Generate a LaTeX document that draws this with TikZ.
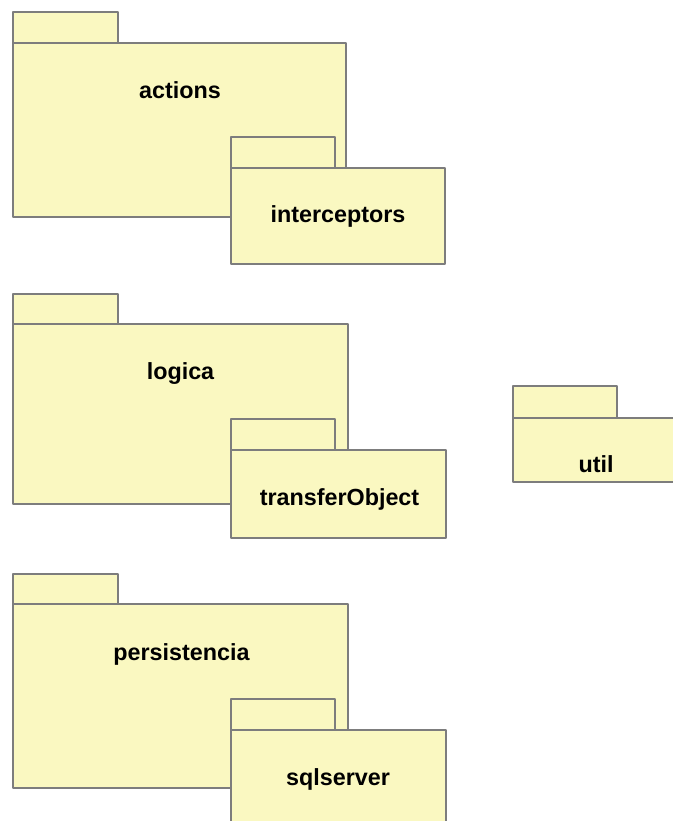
\documentclass[tikz,border=0pt]{standalone}
\usepackage{fontspec}
\setmainfont{Liberation Sans}
\definecolor{pkgfill}{RGB}{250,248,193}
\definecolor{pkgline}{RGB}{125,125,125}
\newcommand{\pkgfont}{\fontsize{17.5}{20}\selectfont\bfseries}

\begin{document}
\begin{tikzpicture}[x=.75pt,y=-.75pt,
  pkg/.style={fill=pkgfill, draw=pkgline, line width=1.1pt, line join=round},
  pkgname/.style={anchor=base, font=\pkgfont, inner sep=0pt}]
        \useasboundingbox (0,0) rectangle (673,821);
        \clip (0,0) rectangle (673,821);
        % actions
        \draw[pkg] (13,12) rectangle (118,43);
        \draw[pkg] (13,43) rectangle (346,217);
        \draw[pkg] (231,137) rectangle (335,168);
        \draw[pkg] (231,168) rectangle (445,264);
        \node (actions) at (180,98) [pkgname] {actions};
        \node (interceptors) at (338,222) [pkgname] {interceptors};
        % logica
        \draw[pkg] (13,294) rectangle (118,324);
        \draw[pkg] (13,324) rectangle (348,504);
        \draw[pkg] (231,419) rectangle (335,450);
        \draw[pkg] (231,450) rectangle (446,538);
        \node (logica) at (180.5,379) [pkgname] {logica};
        \node (transferObject) at (339.5,505) [pkgname] {transferObject};
        % persistencia
        \draw[pkg] (13,574) rectangle (118,604);
        \draw[pkg] (13,604) rectangle (348,788);
        \draw[pkg] (231,699) rectangle (335,730);
        \draw[pkg] (231,730) rectangle (446,850);
        \node (persistencia) at (181.5,660) [pkgname] {persistencia};
        \node (sqlserver) at (338,785) [pkgname] {sqlserver};
        % util
        \draw[pkg] (513,386) rectangle (617,418);
        \draw[pkg] (513,418) rectangle (700,482);
        \node (util) at (596,472) [pkgname] {util};
\end{tikzpicture}
\end{document}
